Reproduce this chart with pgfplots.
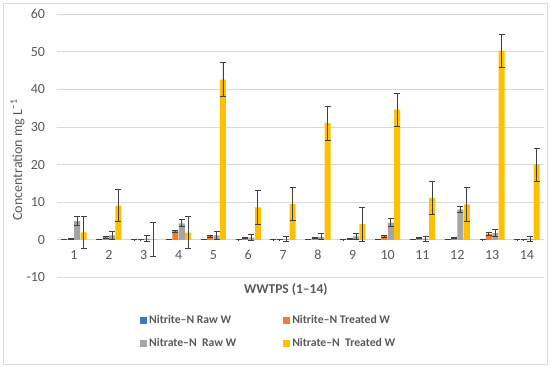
\documentclass[border=0pt]{standalone}
\usepackage{pgfplots}
\pgfplotsset{compat=1.18}
\usepackage{fontspec}
\setmainfont{Carlito}
\definecolor{cblue}{HTML}{4472C4}
\definecolor{corange}{HTML}{ED7D31}
\definecolor{cgray}{HTML}{A5A5A5}
\definecolor{cyellow}{HTML}{FFC000}
\definecolor{txt}{HTML}{595959}
\definecolor{gridc}{HTML}{D9D9D9}
\definecolor{errc}{HTML}{404040}
\begin{document}
\begin{tikzpicture}
\useasboundingbox (0,0) rectangle (550pt,367pt);
\draw[gridc, line width=0.6pt] (3pt,3pt) rectangle (547.5pt,364pt);
\begin{axis}[
  at={(56.6pt,89.5pt)}, anchor=south west,
  scale only axis, width=487.8pt, height=263.5pt,
  xmin=0.5, xmax=14.5, ymin=-10, ymax=60,
  ybar=0.4pt, bar width=6pt,
  axis x line*=middle, axis y line*=left,
  x axis line style={draw=gridc, line width=0.8pt},
  y axis line style={draw=none},
  major tick length=0pt,
  xtick={1,...,14}, xticklabels={1,2,3,4,5,6,7,8,9,10,11,12,13,14},
  ytick={-10,0,10,20,30,40,50,60}, yticklabels={-10,0,10,20,30,40,50,60},
  ymajorgrids, grid style={gridc, line width=0.8pt},
  tick label style={font=\fontsize{14}{16}\selectfont, text=txt},
  xticklabel style={yshift=-7pt},
  yticklabel style={xshift=-8pt},
  ylabel={Concentration mg L\textsuperscript{−1}},
  ylabel style={font=\fontsize{14}{16}\selectfont, text=txt, at={(axis description cs:-0.08,0.446)}, anchor=center, rotate=0},
  xlabel={WWTPS (1–14)},
  xlabel style={font=\bfseries\fontsize{13.5}{16}\selectfont, text=txt, at={(axis description cs:0.47,-0.047)}, anchor=center},
  legend columns=2,
  legend style={at={(axis description cs:0.171,-0.136)}, anchor=north west, draw=none, fill=none,
    font=\bfseries\fontsize{11.7}{14}\selectfont, text=txt, inner sep=0pt,
    /tikz/every even column/.append style={column sep=45pt}, row sep=9pt},
  legend cell align=left,
  legend image code/.code={\fill[#1,draw=none] (0pt,-3.5pt) rectangle (7pt,3.5pt);},
  error bars/y dir=both, error bars/y explicit,
  error bars/error bar style={errc, line width=0.9pt},
  error bars/error mark options={rotate=90, mark size=3pt, errc, line width=0.9pt},
]
\addplot[fill=cblue, draw=none] coordinates {
(1,0.1) +- (0,0.1) (2,0.1) +- (0,0.1) (3,0.05) +- (0,0.05) (4,0.1) +- (0,0.1) (5,0.1) +- (0,0.1)
(6,0.05) +- (0,0.05) (7,0.05) +- (0,0.05) (8,0.1) +- (0,0.1) (9,0.05) +- (0,0.05) (10,0.1) +- (0,0.1)
(11,0.1) +- (0,0.1) (12,0.1) +- (0,0.1) (13,0.05) +- (0,0.05) (14,0.05) +- (0,0.05)};
\addlegendentry{Nitrite–N Raw W}
\addplot[fill=corange, draw=none] coordinates {
(1,0.3) +- (0,0.15) (2,0.7) +- (0,0.2) (3,0.05) +- (0,0.05) (4,2.3) +- (0,0.3) (5,1.0) +- (0,0.25)
(6,0.4) +- (0,0.15) (7,0.05) +- (0,0.05) (8,0.5) +- (0,0.15) (9,0.3) +- (0,0.15) (10,1.0) +- (0,0.25)
(11,0.4) +- (0,0.15) (12,0.4) +- (0,0.15) (13,1.6) +- (0,0.3) (14,0.05) +- (0,0.05)};
\addlegendentry{Nitrite–N Treated W}
\addplot[fill=cgray, draw=none] coordinates {
(1,5.0) +- (0,1.2) (2,1.2) +- (0,1.0) (3,0.3) +- (0,0.8) (4,4.4) +- (0,0.9) (5,1.2) +- (0,1.0)
(6,0.6) +- (0,0.8) (7,0.2) +- (0,0.7) (8,0.8) +- (0,0.8) (9,0.9) +- (0,0.9) (10,4.6) +- (0,1.0)
(11,0.3) +- (0,0.7) (12,8.1) +- (0,0.8) (13,1.8) +- (0,1.0) (14,0.3) +- (0,0.7)};
\addlegendentry{Nitrate–N\ \ Raw W}
\addplot[fill=cyellow, draw=none] coordinates {
(1,2.0) +- (0,4.3) (2,9.1) +- (0,4.3) (3,0.2) +- (0,4.5) (4,1.9) +- (0,4.3) (5,42.6) +- (0,4.5)
(6,8.6) +- (0,4.4) (7,9.5) +- (0,4.4) (8,31.0) +- (0,4.5) (9,4.2) +- (0,4.5) (10,34.6) +- (0,4.4)
(11,11.1) +- (0,4.4) (12,9.4) +- (0,4.4) (13,50.3) +- (0,4.4) (14,20.0) +- (0,4.4)};
\addlegendentry{Nitrate–N\ \ Treated W}
\end{axis}
\end{tikzpicture}
\end{document}
